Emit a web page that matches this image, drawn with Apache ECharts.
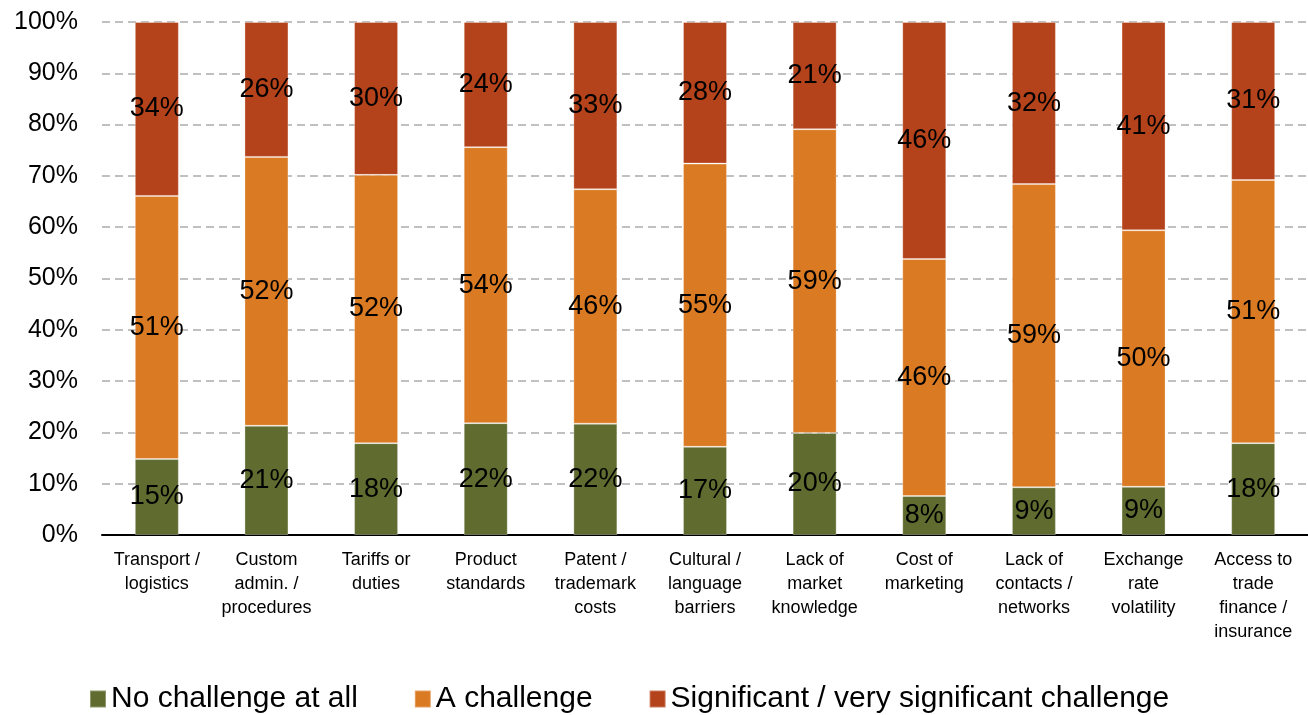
<!DOCTYPE html>
<html><head><meta charset="utf-8">
<script src="https://cdn.jsdelivr.net/npm/echarts@6/dist/echarts.min.js"></script>
<style>html,body{margin:0;padding:0;background:#fff}#c{width:1308px;height:715px}</style>
</head><body><div id="c"></div>
<script>
const categories = ["Transport /\nlogistics","Custom\nadmin. /\nprocedures","Tariffs or\nduties","Product\nstandards","Patent /\ntrademark\ncosts","Cultural /\nlanguage\nbarriers","Lack of\nmarket\nknowledge","Cost of\nmarketing","Lack of\ncontacts /\nnetworks","Exchange\nrate\nvolatility","Access to\ntrade\nfinance /\ninsurance"];
const noChallenge = [14.8,21.3,17.9,21.8,21.7,17.2,19.9,7.6,9.3,9.4,17.9];
const aChallenge = [51.3,52.4,52.3,53.8,45.7,55.2,59.2,46.2,59.1,50.0,51.3];
const significant = [33.9,26.3,29.8,24.4,32.6,27.6,20.9,46.2,31.6,40.6,30.8];
const seriesNames = ["No challenge at all","A challenge","Significant / very significant challenge"];
const colors = ["#5F6B2F","#DA7A22","#B4421A"];
const font = "Liberation Sans, Arial, sans-serif";
const chart = echarts.init(document.getElementById('c'));
const mk = (name, data, color) => ({
  name, type:'bar', stack:'s', data, barWidth:44,
  itemStyle:{color, borderColor:'rgba(255,255,255,0.3)', borderWidth:1},
  label:{show:true, position:'inside', color:'#000', fontFamily:font, fontSize:27,
    formatter:p=>Math.round(p.value)+'%'}
});
chart.setOption({
  animation:false,
  textStyle:{fontFamily:font},
  grid:{left:102, right:0, top:22, bottom:180, containLabel:false},
  legend:{top:679, left:84, itemWidth:16, itemHeight:17, itemGap:56,
    textStyle:{fontSize:30, color:'#000', fontFamily:font},
    icon:'rect', data:seriesNames},
  xAxis:{type:'category', data:categories,
    axisLine:{lineStyle:{color:'#000', width:2}}, axisTick:{show:false},
    axisLabel:{interval:0, fontSize:18, color:'#000', lineHeight:24, margin:13, fontFamily:font}},
  yAxis:{type:'value', min:0, max:100, interval:10,
    axisLabel:{formatter:'{value}%', fontSize:25, color:'#000', margin:24, fontFamily:font},
    splitLine:{lineStyle:{color:'#c0c0c0', width:2, type:[8,5]}},
    axisLine:{show:false}, axisTick:{show:false}},
  series:[mk(seriesNames[0], noChallenge, colors[0]), mk(seriesNames[1], aChallenge, colors[1]), mk(seriesNames[2], significant, colors[2])]
});
</script></body></html>
